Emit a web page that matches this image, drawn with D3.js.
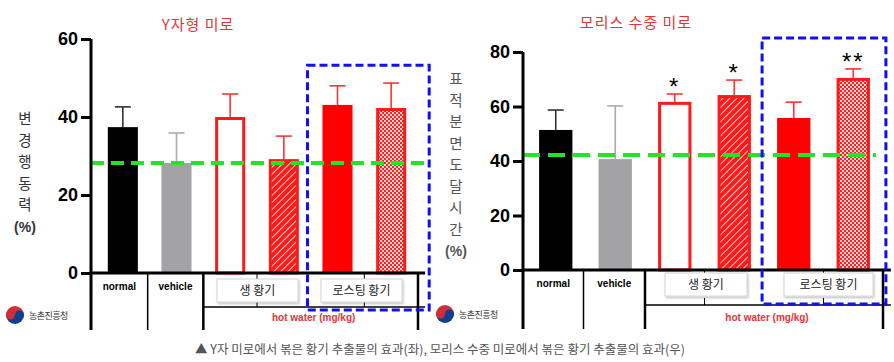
<!DOCTYPE html>
<html>
<head>
<meta charset="utf-8">
<script src="https://cdn.jsdelivr.net/npm/d3@7"></script>
<style>
  body { margin: 0; background: #fff; }
  svg text { font-family: "Liberation Sans", Arial, sans-serif; }
  .ko { font-family: "Noto Sans CJK KR", "Noto Sans", sans-serif; }
</style>
</head>
<body>
<svg id="chart" width="894" height="362"></svg>
<script>
// groups shared by both panels
var groups = ["normal", "vehicle", "raw1", "raw2", "roast1", "roast2"];
var groupLabels = ["normal", "vehicle"];
var subLabels = ["생 황기", "로스팅 황기"];

// Y-maze (left)
var yMazeMean = [37.4, 28.2, 40.0, 29.2, 43.1, 42.3];
var yMazeErr = [5.2, 7.7, 5.9, 5.9, 4.9, 6.4];
var yMazeRef = 28.2;
var yMazeTicks = [0, 20, 40, 60];

// Morris water maze (right)
var morrisMean = [51.4, 40.7, 61.7, 64.2, 55.8, 70.5];
var morrisErr = [7.3, 19.5, 2.9, 5.5, 5.8, 3.3];
var morrisRef = 42.2;
var morrisTicks = [0, 20, 40, 60, 80];
var morrisStars = ["", "", "*", "*", "", "**"];

var svg = d3.select("#chart");
var defs = svg.append("defs");

var hatch = defs.append("pattern").attr("id", "hatch")
    .attr("patternUnits", "userSpaceOnUse").attr("width", 5).attr("height", 5)
    .attr("patternTransform", "rotate(45)");
hatch.append("rect").attr("width", 5).attr("height", 5).attr("fill", "#ff1a1a");
hatch.append("line").attr("x1", 0).attr("y1", 0).attr("x2", 0).attr("y2", 5)
    .attr("stroke", "#fff").attr("stroke-width", 1.6);

var check = defs.append("pattern").attr("id", "check")
    .attr("patternUnits", "userSpaceOnUse").attr("width", 4).attr("height", 4);
check.append("rect").attr("width", 4).attr("height", 4).attr("fill", "#ff2020");
check.append("rect").attr("width", 2).attr("height", 2).attr("fill", "#ffd6d6");
check.append("rect").attr("x", 2).attr("y", 2).attr("width", 2).attr("height", 2).attr("fill", "#ffd6d6");

var shadow = defs.append("filter").attr("id", "shadow")
    .attr("x", "-10%").attr("y", "-10%").attr("width", "130%").attr("height", "150%");
shadow.append("feDropShadow").attr("dx", 1).attr("dy", 1.5).attr("stdDeviation", 1)
    .attr("flood-color", "#000").attr("flood-opacity", 0.25);

var styles = [
    { fill: "#000", stroke: "none", err: "#333" },
    { fill: "#a3a3a6", stroke: "none", err: "#aaa" },
    { fill: "#fff", stroke: "#ff1a1a", err: "#ff3333" },
    { fill: "url(#hatch)", stroke: "#ff1a1a", err: "#ff3333" },
    { fill: "#ff0000", stroke: "none", err: "#ff3333" },
    { fill: "url(#check)", stroke: "#ff1a1a", err: "#ff3333" }
];

function drawPanel(p) {
    var g = svg.append("g");

    var x = d3.scaleBand().domain(groups).range(p.xRange)
        .paddingInner(0.44).paddingOuter(0.22);
    var y = d3.scaleLinear().domain([0, p.max]).range(p.yRange);
    var bw = x.bandwidth();
    var gap = x.step() - bw;

    // title
    g.append("text").attr("class", "ko")
        .attr("x", p.titleX).attr("y", p.titleY)
        .attr("text-anchor", "middle")
        .attr("fill", "#e8323a").attr("font-size", 15)
        .attr("letter-spacing", 1)
        .text(p.title);

    // vertical y label
    var lab = g.append("g").attr("fill", p.labelColor)
        .attr("font-size", p.labelSize).attr("text-anchor", "middle");
    p.label.split("").forEach(function(ch, i) {
        lab.append("text").attr("class", "ko")
            .attr("x", p.labelX).attr("y", p.labelY + i * p.labelStep)
            .text(ch);
    });
    lab.append("text").attr("x", p.labelX).attr("y", p.labelY + p.label.length * p.labelStep)
        .attr("font-size", 14).attr("font-weight", "bold")
        .text("(%)");

    // bars
    var bars = g.selectAll(".bar").data(groups).enter().append("g");
    bars.append("line")
        .attr("x1", function(d) { return x(d) + bw / 2; })
        .attr("x2", function(d) { return x(d) + bw / 2; })
        .attr("y1", function(d, i) { return y(p.mean[i]); })
        .attr("y2", function(d, i) { return y(p.mean[i] + p.err[i]); })
        .attr("stroke", function(d, i) { return styles[i].err; })
        .attr("stroke-width", 1.6);
    bars.append("line")
        .attr("x1", function(d) { return x(d) + bw / 2 - 8; })
        .attr("x2", function(d) { return x(d) + bw / 2 + 8; })
        .attr("y1", function(d, i) { return y(p.mean[i] + p.err[i]); })
        .attr("y2", function(d, i) { return y(p.mean[i] + p.err[i]); })
        .attr("stroke", function(d, i) { return styles[i].err; })
        .attr("stroke-width", 1.6);
    bars.append("rect")
        .attr("x", function(d, i) { return x(d) + (styles[i].stroke == "none" ? 0 : 1.5); })
        .attr("width", function(d, i) { return bw - (styles[i].stroke == "none" ? 0 : 3); })
        .attr("y", function(d, i) { return y(p.mean[i]) + (styles[i].stroke == "none" ? 0 : 1.5); })
        .attr("height", function(d, i) { return y(0) - y(p.mean[i]) - (styles[i].stroke == "none" ? 0 : 1.5); })
        .attr("fill", function(d, i) { return styles[i].fill; })
        .attr("stroke", function(d, i) { return styles[i].stroke; })
        .attr("stroke-width", 3);

    if (p.stars) {
        bars.append("text")
            .attr("x", function(d) { return x(d) + bw / 2; })
            .attr("y", function(d, i) { return y(p.mean[i] + p.err[i]) + 1; })
            .attr("text-anchor", "middle").attr("font-size", 24)
            .attr("letter-spacing", 2)
            .text(function(d, i) { return p.stars[i]; });
    }

    // reference line (vehicle level)
    g.append("line")
        .attr("x1", p.axisX).attr("x2", p.refEnd)
        .attr("y1", y(p.ref)).attr("y2", y(p.ref))
        .attr("stroke", "#22e622").attr("stroke-width", 4)
        .attr("stroke-dasharray", p.refDash);

    // y axis
    var axis = d3.axisLeft(y).tickValues(p.ticks).tickSize(10).tickSizeOuter(0).tickPadding(3);
    var ax = g.append("g").attr("transform", "translate(" + p.axisX + ",0)").call(axis);
    ax.select(".domain").remove();
    ax.selectAll(".tick line").attr("stroke-width", 3);
    ax.selectAll(".tick text").attr("font-size", 18).attr("font-weight", "bold")
        .attr("font-family", "Liberation Sans, Arial, sans-serif").attr("fill", "#000");

    var xEnd = x(groups[5]) + bw + gap * 0.8;
    var tableBottom = p.tableBottom;
    var subLine = p.subLine;

    // axis lines
    g.append("line").attr("x1", p.axisX).attr("x2", p.axisX)
        .attr("y1", y(p.max)).attr("y2", tableBottom)
        .attr("stroke", "#000").attr("stroke-width", 3);
    g.append("line").attr("x1", p.axisX - 1.5).attr("x2", xEnd)
        .attr("y1", y(0)).attr("y2", y(0))
        .attr("stroke", "#000").attr("stroke-width", 3);

    // category table
    var d1 = x(groups[1]) - gap / 2 - 2;
    var d2 = x(groups[2]) - gap / 2;
    var d3x = x(groups[4]) - gap / 2;
    var dEnd = x(groups[5]) + bw + gap / 2;
    g.append("line").attr("x1", d1).attr("x2", d1).attr("y1", y(0)).attr("y2", tableBottom)
        .attr("stroke", "#000").attr("stroke-width", 1.5);
    [d2, dEnd].forEach(function(v) {
        g.append("line").attr("x1", v).attr("x2", v).attr("y1", y(0)).attr("y2", tableBottom)
            .attr("stroke", "#000").attr("stroke-width", 2.5);
    });
    g.append("line").attr("x1", d2).attr("x2", xEnd).attr("y1", subLine).attr("y2", subLine)
        .attr("stroke", "#000").attr("stroke-width", 1.5);
    [(d2 + d3x) / 2, (d3x + dEnd) / 2].forEach(function(v) {
        g.append("line").attr("x1", v).attr("x2", v).attr("y1", y(0)).attr("y2", y(0) + 7)
            .attr("stroke", "#000").attr("stroke-width", 1);
        g.append("line").attr("x1", v).attr("x2", v).attr("y1", subLine - 7).attr("y2", subLine)
            .attr("stroke", "#000").attr("stroke-width", 1);
    });

    groupLabels.forEach(function(t, i) {
        var a = i == 0 ? p.axisX : d1;
        var b = i == 0 ? d1 : d2;
        g.append("text").attr("x", (a + b) / 2).attr("y", y(0) + 17)
            .attr("text-anchor", "middle").attr("font-size", 10).attr("font-weight", "bold")
            .text(t);
    });

    // subgroup boxes
    subLabels.forEach(function(t, i) {
        var bx = p.boxes[i];
        g.append("rect").attr("x", bx[0]).attr("y", bx[1])
            .attr("width", bx[2] - bx[0]).attr("height", 23)
            .attr("fill", "#fff").attr("stroke", "#d4d4d4").attr("stroke-width", 1)
            .attr("filter", "url(#shadow)");
        g.append("text").attr("class", "ko")
            .attr("x", (bx[0] + bx[2]) / 2).attr("y", bx[1] + 16)
            .attr("text-anchor", "middle").attr("font-size", 12).attr("fill", "#222")
            .text(t);
    });

    g.append("text").attr("x", (d2 + dEnd) / 2 + 3).attr("y", p.hotY)
        .attr("text-anchor", "middle").attr("font-size", 10).attr("font-weight", "bold")
        .attr("fill", "#e8323a").text("hot water (mg/kg)");

    // highlight box around roasted groups
    g.append("rect")
        .attr("x", x(groups[4]) - p.hl[0]).attr("y", y(p.hl[1]))
        .attr("width", x(groups[5]) + bw + p.hl[2] - (x(groups[4]) - p.hl[0]))
        .attr("height", p.hl[3] - y(p.hl[1]))
        .attr("fill", "none").attr("stroke", "#1010f0").attr("stroke-width", 3)
        .attr("stroke-dasharray", "8 4");

    // logo
    var lg = g.append("g").attr("transform", "translate(" + p.logo[0] + "," + p.logo[1] + ")");
    lg.append("path").attr("d", "M-9,0 A9,9 0 0,1 9,0 Z").attr("fill", "#cd2e3a");
    lg.append("path").attr("d", "M-9,0 A9,9 0 0,0 9,0 Z").attr("fill", "#0f3f8f");
    lg.append("circle").attr("cx", 4.5).attr("cy", 0).attr("r", 4.5).attr("fill", "#0f3f8f");
    lg.append("circle").attr("cx", -4.5).attr("cy", 0).attr("r", 4.5).attr("fill", "#cd2e3a");
    lg.append("text").attr("class", "ko").attr("x", 14).attr("y", 3.5)
        .attr("font-size", 9).attr("fill", "#333").attr("letter-spacing", -0.5)
        .text("농촌진흥청");
}

drawPanel({
    title: "Y자형 미로", titleX: 198, titleY: 30,
    label: "변경행동력", labelX: 25, labelY: 124, labelStep: 21.5, labelSize: 14.5, labelColor: "#333",
    mean: yMazeMean, err: yMazeErr, ref: yMazeRef, ticks: yMazeTicks, max: 60,
    xRange: [96, 418], yRange: [273, 39], axisX: 91, refEnd: 426, refDash: "13 7",
    tableBottom: 330, subLine: 307, hotY: 321,
    boxes: [[217, 279, 298], [321, 279, 402]],
    hl: [15, 53.3, 23, 310],
    logo: [15, 315]
});

drawPanel({
    title: "모리스 수중 미로", titleX: 636, titleY: 28,
    label: "표적분면도달시간", labelX: 456, labelY: 84, labelStep: 21.5, labelSize: 14.5, labelColor: "#555",
    mean: morrisMean, err: morrisErr, ref: morrisRef, ticks: morrisTicks, max: 80, stars: morrisStars,
    xRange: [526, 883], yRange: [270, 52], axisX: 523, refEnd: 876, refDash: "17 8",
    tableBottom: 329, subLine: 305, hotY: 321,
    boxes: [[665, 273, 747], [784, 273, 873]],
    hl: [15, 85.1, 16, 304],
    logo: [445, 314]
});

svg.append("text").attr("class", "ko")
    .attr("x", 440).attr("y", 354).attr("text-anchor", "middle")
    .attr("font-size", 12.5).attr("fill", "#555")
    .text("▲ Y자 미로에서 볶은 황기 추출물의 효과(좌), 모리스 수중 미로에서 볶은 황기 추출물의 효과(우)");
</script>
</body>
</html>
